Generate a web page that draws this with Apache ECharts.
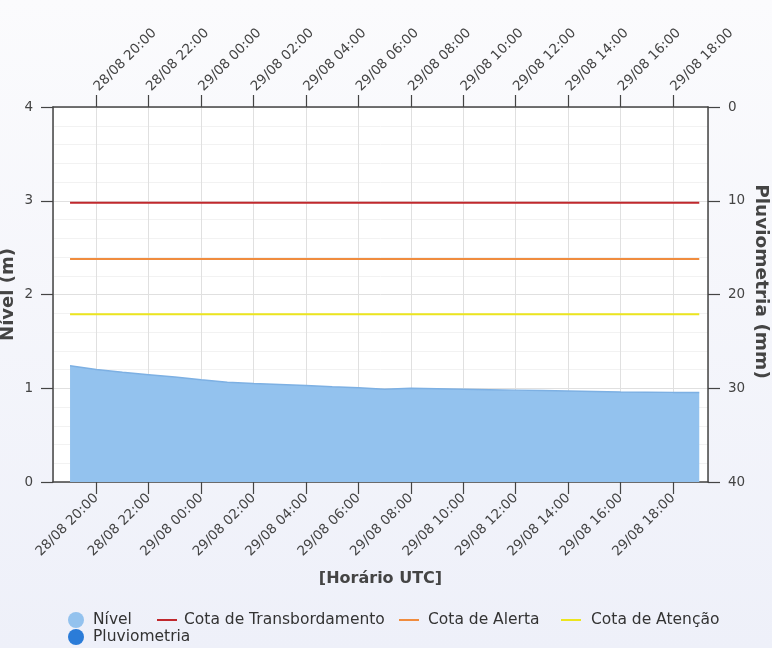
<!DOCTYPE html>
<html>
<head>
<meta charset="utf-8">
<script src="https://cdn.jsdelivr.net/npm/echarts@6/dist/echarts.min.js"></script>
<style>
    html, body { margin: 0; padding: 0; }
    body { background: linear-gradient(#fbfbfd, #eef0f9); }
    #main { width: 772px; height: 648px; }
</style>
</head>
<body>
<div id="main"></div>
<script>
// leituras horárias (UTC)
const horas = [
    '2024-08-28T19:00Z', '2024-08-28T20:00Z', '2024-08-28T21:00Z', '2024-08-28T22:00Z',
    '2024-08-28T23:00Z', '2024-08-29T00:00Z', '2024-08-29T01:00Z', '2024-08-29T02:00Z',
    '2024-08-29T03:00Z', '2024-08-29T04:00Z', '2024-08-29T05:00Z', '2024-08-29T06:00Z',
    '2024-08-29T07:00Z', '2024-08-29T08:00Z', '2024-08-29T09:00Z', '2024-08-29T10:00Z',
    '2024-08-29T11:00Z', '2024-08-29T12:00Z', '2024-08-29T13:00Z', '2024-08-29T14:00Z',
    '2024-08-29T15:00Z', '2024-08-29T16:00Z', '2024-08-29T17:00Z', '2024-08-29T18:00Z',
    '2024-08-29T19:00Z'
];
const nivel = [
    1.24, 1.20, 1.17, 1.145, 1.12, 1.09, 1.065, 1.05, 1.04, 1.03, 1.015, 1.005,
    0.99, 1.0, 0.995, 0.99, 0.985, 0.98, 0.975, 0.97, 0.965, 0.96, 0.958, 0.956, 0.955
];
const pluviometria = [];
const cotaTransbordamento = 2.98;
const cotaAlerta = 2.38;
const cotaAtencao = 1.79;

const xMin = Date.UTC(2024, 7, 28, 18, 21);
const xMax = Date.UTC(2024, 7, 29, 19, 20);

const FONT = 'DejaVu Sans';

function pad(n) { return n < 10 ? '0' + n : '' + n; }
function fmtHora(v) {
    const d = new Date(v);
    return pad(d.getUTCDate()) + '/' + pad(d.getUTCMonth() + 1) + ' ' +
        pad(d.getUTCHours()) + ':' + pad(d.getUTCMinutes());
}

const ts = horas.map(h => Date.parse(h));
const serieNivel = ts.map((t, i) => [t, nivel[i]]);
function constante(v) { return ts.map(t => [t, v]); }

const axisColor = '#444';
const labelStyle = { color: '#444', fontFamily: FONT, fontSize: 13.5 };
const titleStyle = { color: '#444', fontFamily: FONT, fontWeight: 'bold' };

function eixoX(pos) {
    return {
        type: 'time',
        position: pos,
        min: xMin,
        max: xMax,
        splitNumber: 12,
        axisLine: { show: true, lineStyle: { color: axisColor, width: 1.5 } },
        axisTick: { show: true, length: 12, lineStyle: { color: axisColor, width: 1.2 } },
        axisLabel: Object.assign({
            rotate: 45, margin: pos === 'top' ? 18 : 14, formatter: fmtHora, hideOverlap: false
        }, labelStyle),
        splitLine: { show: pos === 'bottom', lineStyle: { color: '#e0e0e0', width: 1 } }
    };
}

const chart = echarts.init(document.getElementById('main'));
const bottomAxis = eixoX('bottom');
bottomAxis.name = '[Horário UTC]';
bottomAxis.nameLocation = 'middle';
bottomAxis.nameGap = 89;
bottomAxis.nameMoveOverlap = false;
bottomAxis.nameTextStyle = Object.assign({ fontSize: 16 }, titleStyle);

function legenda(nome, left, top, icon, w, pad) {
    return {
        data: [{ name: nome, icon: icon }],
        left: left,
        top: top,
        padding: 0,
        itemWidth: w,
        itemHeight: 16,
        selectedMode: false,
        textStyle: { color: '#333', fontFamily: FONT, fontSize: 15.5, padding: [0, 0, 0, pad] }
    };
}
const linha = 'path://M0,0L20,0L20,2L0,2Z';

chart.setOption({
    useUTC: true,
    animation: false,
    backgroundColor: 'transparent',
    grid: {
        left: 53, right: 64, top: 107, bottom: 166,
        outerBoundsMode: 'none',
        containLabel: false,
        show: true, backgroundColor: '#ffffff', borderWidth: 0
    },
    legend: [
        legenda('Nível', 68, 612, 'circle', 16, 4),
        legenda('Cota de Transbordamento', 157, 612, linha, 20, 2),
        legenda('Cota de Alerta', 399, 612, linha, 20, 4),
        legenda('Cota de Atenção', 561, 612, linha, 20, 5),
        legenda('Pluviometria', 68, 629, 'circle', 16, 4)
    ],
    xAxis: [bottomAxis, eixoX('top')],
    yAxis: [
        {
            type: 'value',
            position: 'left',
            min: 0, max: 4, interval: 1,
            name: 'Nível (m)',
            nameLocation: 'middle',
            nameGap: 36,
            nameMoveOverlap: false,
            nameTextStyle: Object.assign({ fontSize: 18 }, titleStyle),
            axisLine: { show: true, lineStyle: { color: axisColor, width: 1.5 } },
            axisTick: { show: true, length: 12, lineStyle: { color: axisColor, width: 1.2 } },
            axisLabel: Object.assign({ margin: 20 }, labelStyle),
            splitLine: { show: true, lineStyle: { color: '#e0e0e0' } },
            minorTick: { show: false, splitNumber: 5 },
            minorSplitLine: { show: true, lineStyle: { color: '#f2f2f2' } }
        },
        {
            type: 'value',
            position: 'right',
            min: 0, max: 40, interval: 10,
            inverse: true,
            name: 'Pluviometria (mm)',
            nameLocation: 'middle',
            nameRotate: -90,
            nameGap: 43,
            nameMoveOverlap: false,
            nameTextStyle: Object.assign({ fontSize: 18.5, padding: [0, 26, 0, 0] }, titleStyle),
            axisLine: { show: true, lineStyle: { color: axisColor, width: 1.5 } },
            axisTick: { show: true, length: 12, lineStyle: { color: axisColor, width: 1.2 } },
            axisLabel: Object.assign({ margin: 20 }, labelStyle),
            splitLine: { show: false }
        }
    ],
    series: [
        {
            name: 'Nível',
            type: 'line',
            data: serieNivel,
            symbol: 'none',
            color: '#93c2ee',
            lineStyle: { color: '#7db0e3', width: 1.5 },
            areaStyle: { color: '#93c2ee', opacity: 1 },
            z: 2
        },
        {
            name: 'Cota de Transbordamento',
            type: 'line',
            data: constante(cotaTransbordamento),
            symbol: 'none',
            color: '#c0282d',
            lineStyle: { width: 2 }
        },
        {
            name: 'Cota de Alerta',
            type: 'line',
            data: constante(cotaAlerta),
            symbol: 'none',
            color: '#f08c3e',
            lineStyle: { width: 2 }
        },
        {
            name: 'Cota de Atenção',
            type: 'line',
            data: constante(cotaAtencao),
            symbol: 'none',
            color: '#ece51e',
            lineStyle: { width: 2 }
        },
        {
            // sem leituras de chuva no período
            name: 'Pluviometria',
            type: 'line',
            yAxisIndex: 1,
            data: pluviometria,
            symbol: 'none',
            color: '#2b7cd8'
        }
    ]
});
</script>
</body>
</html>
